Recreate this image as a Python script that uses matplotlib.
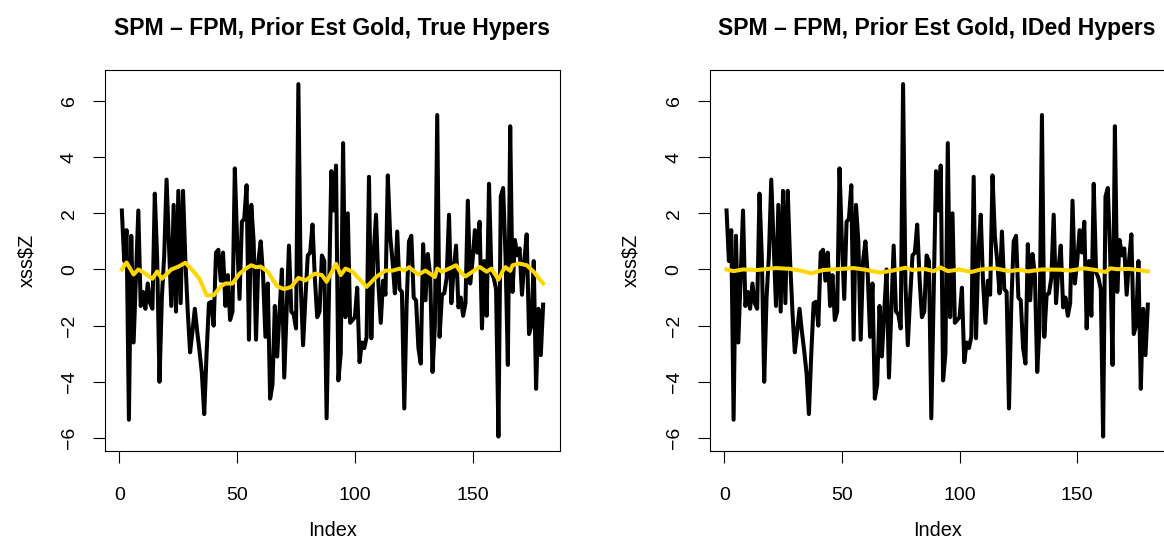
import numpy as np
import matplotlib
matplotlib.use("Agg")
import matplotlib.pyplot as plt

plt.rcParams["font.family"] = ["Liberation Sans", "DejaVu Sans"]

# black series xss$Z (index 1..180)
xss_z = [
    2.1, 0.3, 1.4, -5.35, 1.2, -2.6, -0.2, 2.1, -1.3, -0.8,
    -1.4, -0.5, -1.2, -1.4, 2.7, 0.4, -4.0, -1.0, 0.5, 3.2,
    1.0, -1.3, 2.3, -1.5, 2.8, -1.2, 2.8, 0.3, -1.5, -2.95,
    -2.2, -1.4, -2.2, -2.9, -3.7, -5.15, -3.0, -1.2, -1.15, -2.0,
    0.6, 0.7, -0.4, 0.6, -1.3, -0.2, -1.8, -1.5, 3.6, 1.0,
    -1.05, 1.7, 1.8, 3.0, -2.5, 2.3, 1.0, -2.5, 0.3, 1.0,
    -0.2, -2.4, -0.5, -4.6, -4.1, -1.3, -3.1, -1.5, 0.0, -3.85,
    -1.5, 0.85, -1.5, -1.6, -2.1, 6.6, -0.5, -2.7, -1.0, 0.5,
    0.6, 1.6, -0.3, -1.7, -1.5, 0.5, 0.3, -5.3, -1.0, 3.5,
    2.1, 3.7, -3.95, -3.0, 4.5, -1.7, 2.0, -1.9, -1.8, -1.7,
    -0.65, -3.3, -2.6, -2.8, -2.4, 3.3, -2.45, 0.6, 1.95, -0.5,
    -1.9, -0.4, -0.9, 3.35, 1.2, 0.3, -0.85, 1.35, -0.7, -0.8,
    -4.95, -1.2, 1.0, 1.2, -1.0, -1.1, -2.8, -3.35, 0.9, -1.1,
    0.55, -0.2, -3.65, -2.0, 5.5, -2.4, -0.9, -0.85, -0.3, 1.95,
    -1.2, 0.0, 0.85, -1.35, -1.0, -1.65, -1.2, 2.45, -0.5, 0.3,
    1.4, 0.6, 1.7, -2.1, 0.3, -1.65, 3.05, -0.1, -0.3, -0.7,
    -5.95, 2.6, 2.9, 0.5, -3.4, 5.1, -0.8, 1.05, 0.5, 0.75,
    -0.9, 0.3, 1.25, -2.3, -2.0, 0.3, -4.25, -1.4, -3.05, -1.25,
]
index = np.arange(1, len(xss_z) + 1)

# gold line, true hypers
true_idx = [1, 3, 6, 8, 11, 14, 16, 18, 22, 25, 28, 31, 34, 37, 40, 43, 45,
            48, 51, 54, 56, 58, 60, 63, 67, 70, 73, 76, 79, 83, 86, 88, 92,
            94, 96, 99, 102, 105, 109, 113, 116, 119, 121, 123, 127, 130,
            134, 135, 137, 140, 143, 145, 147, 150, 153, 156, 158, 161, 163,
            164, 166, 167, 170, 173, 176, 178, 180]
true_est = [0.0, 0.25, -0.18, 0.0, -0.15, -0.33, -0.07, -0.33, 0.0, 0.1,
            0.24, -0.03, -0.33, -0.92, -0.92, -0.6, -0.5, -0.5, -0.15, 0.05,
            0.15, 0.08, 0.1, -0.08, -0.6, -0.7, -0.62, -0.3, -0.39, -0.15,
            -0.2, -0.44, 0.2, -0.2, 0.03, -0.08, -0.35, -0.62, -0.27, -0.04,
            -0.04, 0.03, -0.04, 0.08, -0.18, -0.04, -0.27, 0.03, -0.08, 0.03,
            0.15, -0.1, -0.25, -0.08, 0.09, -0.08, 0.03, -0.36, -0.03, 0.08,
            -0.05, 0.15, 0.21, 0.15, -0.08, -0.3, -0.5]

# gold line, IDed hypers
ided_idx = [1, 4, 8, 14, 22, 28, 33, 37, 42, 50, 55, 60, 66, 71, 77, 80, 85,
            89, 92, 95, 100, 105, 109, 115, 121, 126, 129, 135, 143, 147, 153,
            158, 162, 164, 167, 172, 176, 180]
ided_est = [0.0, -0.06, 0.0, -0.02, 0.05, 0.02, -0.05, -0.14, -0.02, 0.02,
            0.05, -0.01, -0.11, -0.05, 0.06, -0.02, 0.02, -0.06, 0.07, -0.06,
            0.0, -0.09, 0.0, 0.04, -0.06, -0.01, -0.07, 0.0, -0.01, -0.04,
            0.04, -0.02, -0.09, 0.04, 0.01, 0.02, -0.02, -0.07]

titles = ["SPM \u2013 FPM, Prior Est Gold, True Hypers",
          "SPM \u2013 FPM, Prior Est Gold, IDed Hypers"]

fig = plt.figure(figsize=(11.64, 5.46), dpi=100)
ax1 = fig.add_axes([0.0902, 0.1746, 0.3909, 0.6972])
ax2 = fig.add_axes([0.6097, 0.1746, 0.3909, 0.6972])

for ax, title, gx, gy in [(ax1, titles[0], true_idx, true_est),
                          (ax2, titles[1], ided_idx, ided_est)]:
    ax.plot(index, xss_z, color="black", lw=2.9, solid_joinstyle="round")
    ax.plot(gx, gy, color="gold", lw=2.9, solid_joinstyle="round")
    ax.margins(x=0.04, y=0.04)
    ax.set_xticks([0, 50, 100, 150])
    ax.set_yticks([-6, -4, -2, 0, 2, 4, 6])
    ax.tick_params(axis="both", direction="out", length=8.5, width=0.8,
                   labelsize=14, colors="black")
    ax.tick_params(axis="x", pad=17.5)
    ax.tick_params(axis="y", pad=11, labelrotation=90)
    for lbl in ax.get_yticklabels():
        lbl.set_va("center")
    for sp in ax.spines.values():
        sp.set_linewidth(0.8)
    ax.set_title(title, fontsize=16.6, fontweight="bold", pad=25)
    ax.set_xlabel("Index", fontsize=14.3)
    ax.set_ylabel("xss$Z", fontsize=14.3)
    ax.xaxis.set_label_coords(0.5, -0.186)
    ax.yaxis.set_label_coords(-0.152, 0.5)

fig.savefig("out.png", dpi=100)
